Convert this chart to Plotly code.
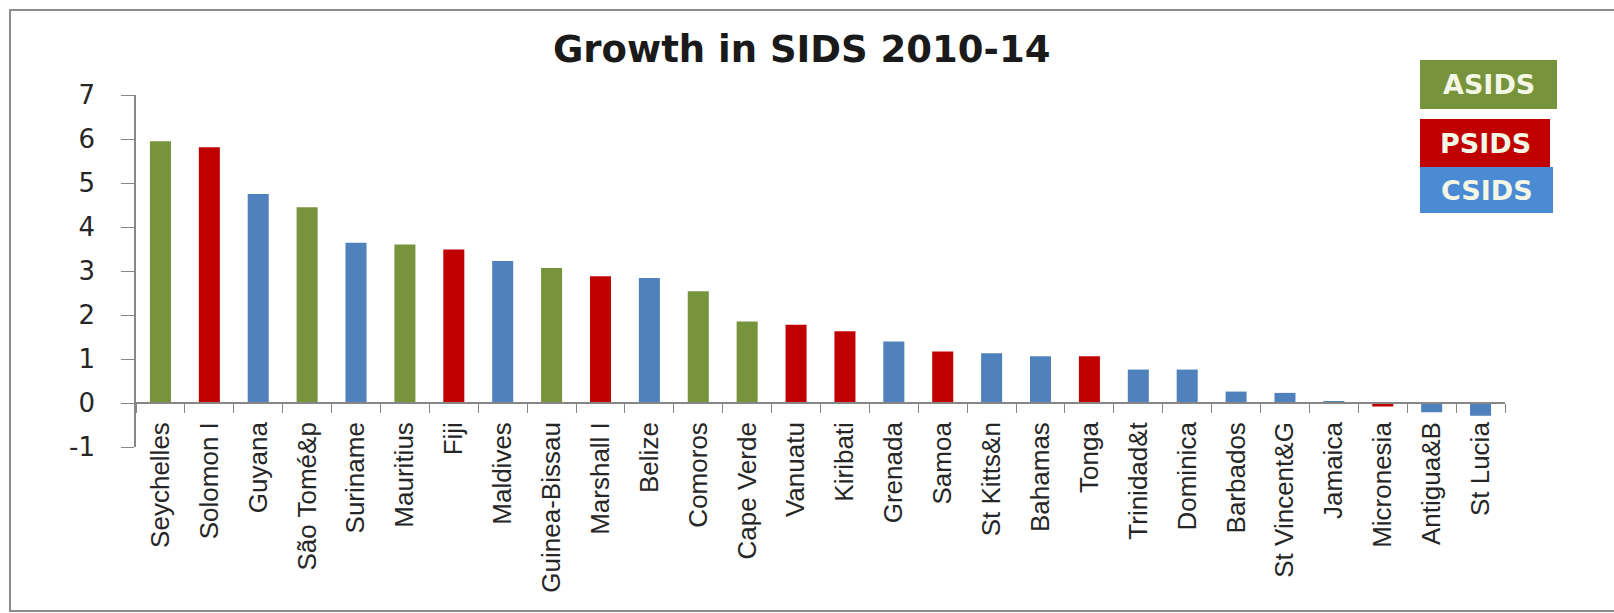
import plotly.graph_objects as go

# Average real GDP growth, 2010-14, small island developing states
countries = ["Seychelles", "Solomon I", "Guyana", "São Tomé&p", "Suriname", "Mauritius",
             "Fiji", "Maldives", "Guinea-Bissau", "Marshall I", "Belize", "Comoros",
             "Cape Verde", "Vanuatu", "Kiribati", "Grenada", "Samoa", "St Kitts&n",
             "Bahamas", "Tonga", "Trinidad&t", "Dominica", "Barbados", "St Vincent&G",
             "Jamaica", "Micronesia", "Antigua&B", "St Lucia"]
growth = [5.95, 5.81, 4.75, 4.45, 3.64, 3.60, 3.49, 3.23, 3.07, 2.88, 2.84, 2.54,
          1.85, 1.78, 1.63, 1.40, 1.17, 1.13, 1.06, 1.06, 0.76, 0.76, 0.26, 0.23,
          0.04, -0.08, -0.21, -0.29]
region = ["ASIDS", "PSIDS", "CSIDS", "ASIDS", "CSIDS", "ASIDS", "PSIDS", "CSIDS",
          "ASIDS", "PSIDS", "CSIDS", "ASIDS", "ASIDS", "PSIDS", "PSIDS", "CSIDS",
          "PSIDS", "CSIDS", "CSIDS", "PSIDS", "CSIDS", "CSIDS", "CSIDS", "CSIDS",
          "CSIDS", "PSIDS", "CSIDS", "CSIDS"]
y_ticks = [-1, 0, 1, 2, 3, 4, 5, 6, 7]

bar_colors = {"ASIDS": "#77933C", "PSIDS": "#C00000", "CSIDS": "#4F81BD"}
key_colors = {"ASIDS": "#77933C", "PSIDS": "#C00000", "CSIDS": "#4A8BD4"}

W, H = 1614, 613
L, R, T, B = 136, 1505, 95, 447  # plot area in pixels


def px(x):
    return (x - L) / (R - L)


def py(y):
    return (B - y) / (B - T)


fig = go.Figure(go.Bar(
    x=countries, y=growth,
    marker=dict(color=[bar_colors[r] for r in region], line=dict(width=0)),
    showlegend=False,
))

ymin, ymax = y_ticks[0], y_ticks[-1]

fig.update_layout(
    width=W, height=H,
    margin=dict(l=L, r=W - R, t=T, b=H - B, autoexpand=False),
    paper_bgcolor="white", plot_bgcolor="white",
    bargap=0.57,
    title=dict(text="<b>Growth in SIDS 2010-14</b>", x=px(816), xanchor="center",
               y=1 - 49 / H, yanchor="middle",
               font=dict(family="DejaVu Sans", size=37, color="#1a1a1a")),
    xaxis=dict(
        type="category", anchor="free", position=(0 - ymin) / (ymax - ymin),
        showline=True, linecolor="#868686", linewidth=1.5,
        ticks="outside", tickson="boundaries", ticklen=9, tickcolor="#868686",
        tickangle=-90, showgrid=False, automargin=False, ticklabelstandoff=8,
        tickfont=dict(family="Liberation Sans Narrow, Arial Narrow, Liberation Sans, sans-serif",
                      size=26, color="#262626"),
    ),
    yaxis=dict(
        range=[ymin, ymax], tickvals=y_ticks, ticktext=[str(v) for v in y_ticks],
        showline=True, linecolor="#868686",
        linewidth=1.5, ticks="outside", ticklen=13, tickcolor="#868686",
        showgrid=False, zeroline=False, automargin=False, ticklabelstandoff=21,
        tickfont=dict(family="DejaVu Sans", size=26, color="#262626"),
    ),
)

# outer frame
fig.add_shape(type="path", xref="paper", yref="paper",
              path=f"M {px(1630)},{py(10)} L {px(10)},{py(10)} L {px(10)},{py(611)} L {px(1630)},{py(611)}",
              line=dict(color="#8c8c8c", width=2))

# group key boxes
boxes = [("ASIDS", 1420, 1557, 60, 109),
         ("PSIDS", 1420, 1550, 119, 167),
         ("CSIDS", 1420, 1553, 167, 213)]
for name, x0, x1, y0, y1 in boxes:
    fig.add_shape(type="rect", xref="paper", yref="paper",
                  x0=px(x0), x1=px(x1), y0=py(y1), y1=py(y0),
                  fillcolor=key_colors[name], line=dict(width=0), layer="above")
    fig.add_annotation(xref="paper", yref="paper", x=px((x0 + x1) / 2), y=py((y0 + y1) / 2),
                       text=f"<b>{name}</b>", showarrow=False, xanchor="center", yanchor="middle",
                       font=dict(family="DejaVu Sans", size=27, color="#F4F6E6"))

fig.write_html("out.html")
